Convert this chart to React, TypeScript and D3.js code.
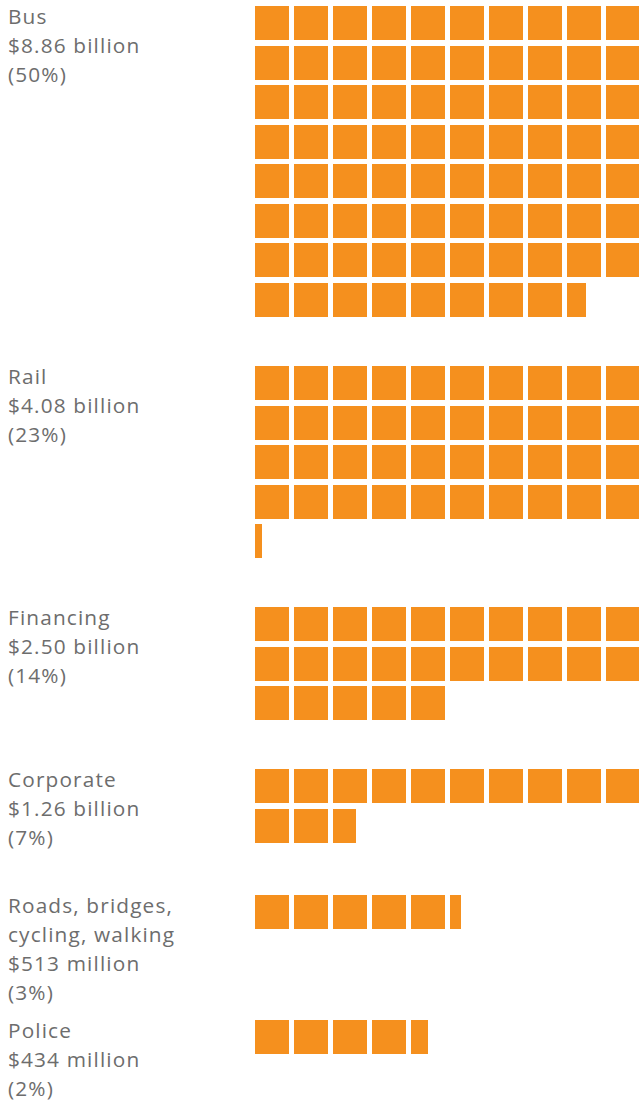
import React from "react";
import * as d3 from "d3";

const categoryLines: string[][] = [
  ["Bus"],
  ["Rail"],
  ["Financing"],
  ["Corporate"],
  ["Roads, bridges,", "cycling, walking"],
  ["Police"],
];
const amounts = ["$8.86 billion", "$4.08 billion", "$2.50 billion", "$1.26 billion", "$513 million", "$434 million"];
const shares = ["(50%)", "(23%)", "(14%)", "(7%)", "(3%)", "(2%)"];
// number of squares drawn in the picture (fractions = partial square)
const units = [78.56, 40.2, 25, 12.68, 5.32, 4.5];

const W = 639;
const H = 1103;
const COLS = 10;
const CELL = 34;
const COL_STEP = 39;
const ROW_STEP = 39.57;
const GRID_X = 255;
const TOP = 6;
const GROUP_GAP = 43.44;
const MIN_GROUP = 125.5;
const LINE_H = 29;
const ORANGE = "#F5901E";
const GREY = "#6d6d6d";

export default function App() {
  const x = d3.scaleLinear().domain([0, COLS]).range([GRID_X, GRID_X + COLS * COL_STEP]);
  const y = d3.scaleLinear().domain([0, 1]).range([0, ROW_STEP]);
  const wScale = d3.scaleLinear().domain([0, 1]).range([0, CELL]);

  let cursor = TOP;
  const groups = units.map((u, i) => {
    const rows = Math.ceil(u / COLS);
    const top = cursor;
    cursor += Math.max(y(rows) + GROUP_GAP, MIN_GROUP);
    const cells: { c: number; r: number; f: number }[] = [];
    const full = Math.floor(u);
    for (let k = 0; k < full; k++) cells.push({ c: k % COLS, r: Math.floor(k / COLS), f: 1 });
    const frac = u - full;
    if (frac > 0.001) cells.push({ c: full % COLS, r: Math.floor(full / COLS), f: frac });
    const lines = [...categoryLines[i], amounts[i], shares[i]];
    return { top, cells, lines };
  });

  return (
    <svg
      width={W}
      height={H}
      style={{ position: "absolute", left: 0, top: 0, display: "block" }}
      fontFamily="'Open Sans', 'Noto Sans', sans-serif"
    >
      {groups.map((g, i) => (
        <g key={i}>
          {g.lines.map((t, j) => (
            <text
              key={j}
              x={8}
              y={g.top + 18 + j * LINE_H}
              fontSize={20.8}
              letterSpacing={1.15}
              fill={GREY}
            >
              {t}
            </text>
          ))}
          {g.cells.map((c, k) => (
            <rect
              key={k}
              x={x(c.c)}
              y={g.top + y(c.r)}
              width={wScale(c.f)}
              height={CELL}
              fill={ORANGE}
              shapeRendering="crispEdges"
            />
          ))}
        </g>
      ))}
    </svg>
  );
}
